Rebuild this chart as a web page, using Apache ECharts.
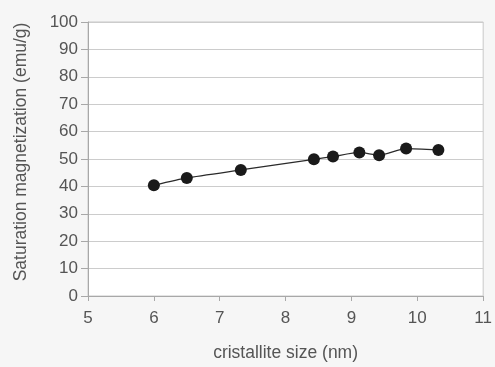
<!DOCTYPE html>
<html><head><meta charset="utf-8">
<script src="https://cdn.jsdelivr.net/npm/echarts@6/dist/echarts.min.js"></script>
<style>html,body{margin:0;padding:0;background:#f6f6f6;}#c{width:495px;height:367px;}</style>
</head><body><div id="c"></div>
<script>
var sizes = [6.0, 6.5, 7.32, 8.43, 8.72, 9.12, 9.42, 9.83, 10.32];
var magnetization = [40.4, 43.1, 46.0, 49.9, 50.9, 52.4, 51.4, 53.8, 53.3];
var xTitle = 'cristallite size (nm)';
var yTitle = 'Saturation magnetization (emu/g)';

var chart = echarts.init(document.getElementById('c'));
var font = 'Liberation Sans, Arial, sans-serif';
chart.setOption({
  backgroundColor: '#f6f6f6',
  animation: false,
  grid: {left: 88, right: 11, top: 22, bottom: 65, show: true, backgroundColor: '#ffffff', borderColor: '#c8c8c8', borderWidth: 1},
  xAxis: {
    type: 'value', min: 5, max: 11, interval: 1,
    name: xTitle, nameLocation: 'middle', nameGap: 48,
    nameTextStyle: {fontFamily: font, fontSize: 17.5, color: '#555'},
    axisLine: {show: true, lineStyle: {color: '#a8a8a8'}},
    axisTick: {show: true, length: 5, lineStyle: {color: '#a8a8a8'}},
    axisLabel: {fontFamily: font, fontSize: 17, color: '#555', margin: 14},
    splitLine: {show: false}
  },
  yAxis: {
    type: 'value', min: 0, max: 100, interval: 10,
    name: yTitle, nameLocation: 'middle', nameGap: 58,
    nameTextStyle: {fontFamily: font, fontSize: 17.5, color: '#555', padding: [0, 0, 0, 14]},
    axisLine: {show: true, lineStyle: {color: '#a8a8a8'}},
    axisTick: {show: true, length: 7, lineStyle: {color: '#a8a8a8'}},
    axisLabel: {fontFamily: font, fontSize: 17, color: '#555', margin: 10},
    splitLine: {show: true, lineStyle: {color: '#cccccc'}}
  },
  series: [{
    type: 'line',
    data: sizes.map(function(x, i){ return [x, magnetization[i]]; }),
    smooth: 0.2,
    symbol: 'circle', symbolSize: 12,
    itemStyle: {color: '#1a1a1a'},
    lineStyle: {color: '#2a2a2a', width: 1.3}
  }]
});
</script></body></html>
